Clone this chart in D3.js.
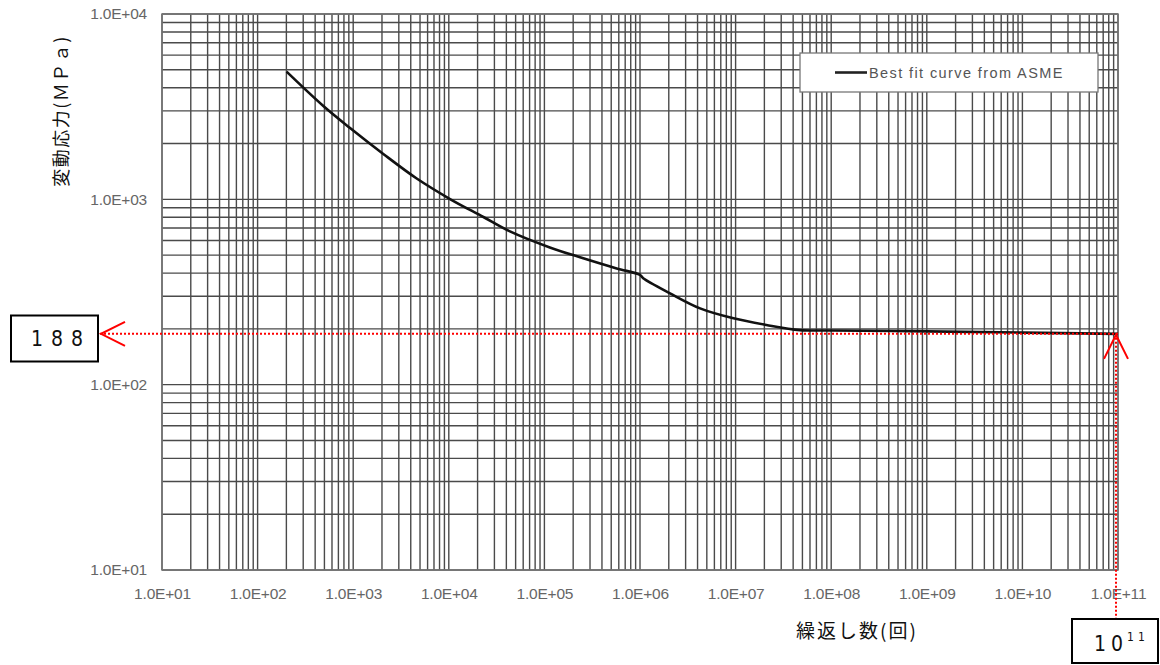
<!DOCTYPE html>
<html>
<head>
<meta charset="utf-8">
<script src="https://cdn.jsdelivr.net/npm/d3@7"></script>
<style>
  html, body { margin: 0; padding: 0; background: #fff; }
  svg { display: block; }
</style>
</head>
<body>
<svg id="chart" width="1160" height="665"></svg>
<script>
// Fatigue (S-N) curve data: cycles to failure vs. alternating stress (MPa)
const cycles = [201, 487, 927, 2065, 4617, 10300, 23000, 43600, 114000, 255000, 570000,
                1.0e6, 1.08e6, 2.06e6, 4.25e6, 9.5e6, 2.1e7, 4.7e7, 1e8, 1e9, 1e10, 1e11];
const stress = [4884, 3188, 2426, 1757, 1295, 1004, 803, 671, 550, 481, 424,
                391, 375, 311, 258, 228, 210, 197, 196, 194, 191, 188];

const xTickValues = [1e1, 1e2, 1e3, 1e4, 1e5, 1e6, 1e7, 1e8, 1e9, 1e10, 1e11];
const yTickValues = [1e1, 1e2, 1e3, 1e4];
const legendLabel = "Best fit curve from ASME";
const yTitle = "変動応力(ＭＰａ)";
const xTitle = "繰返し数(回)";

// Highlighted reading on the curve
const markStress = 188;
const markCycles = 1e11;

const svg = d3.select("#chart");

const x = d3.scaleLog().domain([1e1, 1e11]).range([162, 1118]);
const y = d3.scaleLog().domain([1e1, 1e4]).range([570, 14]);

// minor + major grid values for every decade
function logGridValues(lo, hi) {
  const vals = [];
  for (let e = Math.log10(lo); e < Math.log10(hi); e++) {
    for (let m = 1; m <= 9; m++) vals.push(m * Math.pow(10, e));
  }
  vals.push(hi);
  return vals;
}

const plot = svg.append("g");

// horizontal grid
plot.append("g").selectAll("line")
  .data(logGridValues(1e1, 1e4))
  .join("line")
  .attr("x1", x.range()[0]).attr("x2", x.range()[1])
  .attr("y1", d => y(d)).attr("y2", d => y(d))
  .attr("stroke", "#4a4a4a").attr("stroke-width", 1.4);

// vertical grid
plot.append("g").selectAll("line")
  .data(logGridValues(1e1, 1e11))
  .join("line")
  .attr("y1", y.range()[0]).attr("y2", y.range()[1])
  .attr("x1", d => x(d)).attr("x2", d => x(d))
  .attr("stroke", "#4a4a4a").attr("stroke-width", 1.4);

// plot frame
plot.append("rect")
  .attr("x", x.range()[0]).attr("y", y.range()[1])
  .attr("width", x.range()[1] - x.range()[0])
  .attr("height", y.range()[0] - y.range()[1])
  .attr("fill", "none").attr("stroke", "#777").attr("stroke-width", 1.5);

const fmt = d => "1.0E+" + String(Math.round(Math.log10(d))).padStart(2, "0");

// axes (labels only; grid drawn above)
const xAxis = d3.axisBottom(x).tickValues(xTickValues).tickFormat(fmt).tickSize(0).tickPadding(18);
const gx = svg.append("g").attr("transform", `translate(0,${y.range()[0]})`).call(xAxis);
gx.select(".domain").remove();
gx.attr("font-size", null);
gx.selectAll("text")
  .attr("fill", "#666").attr("font-family", "Liberation Sans, Arial, sans-serif")
  .style("font-size", "15.5px").attr("letter-spacing", -0.2);

const yAxis = d3.axisLeft(y).tickValues(yTickValues).tickFormat(fmt).tickSize(0).tickPadding(15);
const gy = svg.append("g").attr("transform", `translate(${x.range()[0]},0)`).call(yAxis);
gy.select(".domain").remove();
gy.attr("font-size", null);
gy.selectAll("text")
  .attr("fill", "#666").attr("font-family", "Liberation Sans, Arial, sans-serif")
  .style("font-size", "15.5px").attr("letter-spacing", -0.2);

// S-N curve
const line = d3.line()
  .x((d, i) => x(cycles[i]))
  .y((d, i) => y(stress[i]))
  .curve(d3.curveCatmullRom.alpha(0.5));
svg.append("path")
  .datum(stress)
  .attr("d", line)
  .attr("fill", "none").attr("stroke", "#111").attr("stroke-width", 2.6)
  .attr("stroke-linejoin", "round");

// legend
const lg = svg.append("g");
lg.append("rect")
  .attr("x", 800).attr("y", 53).attr("width", 298).attr("height", 39)
  .attr("fill", "#fff").attr("stroke", "#777").attr("stroke-width", 1.3);
lg.append("line")
  .attr("x1", 835).attr("x2", 867).attr("y1", 72.5).attr("y2", 72.5)
  .attr("stroke", "#222").attr("stroke-width", 2.6);
lg.append("text")
  .attr("x", 869).attr("y", 77.5)
  .attr("font-family", "Liberation Sans, Arial, sans-serif")
  .style("font-size", "14.5px").attr("fill", "#555").attr("letter-spacing", 1.4)
  .text(legendLabel);

// axis titles
svg.append("text")
  .attr("transform", "translate(68,111) rotate(-90)")
  .attr("text-anchor", "middle")
  .attr("font-family", "Noto Sans CJK JP, sans-serif")
  .attr("font-size", 18).attr("letter-spacing", 1.5).attr("fill", "#111")
  .text(yTitle);

svg.append("text")
  .attr("x", 857).attr("y", 638)
  .attr("text-anchor", "middle")
  .attr("font-family", "Noto Sans CJK JP, sans-serif")
  .attr("font-size", 19).attr("letter-spacing", 2).attr("fill", "#111")
  .text(xTitle);

// annotation: value read at 10^11 cycles
const red = "#ff0000";
const ann = svg.append("g");
const ym = y(markStress), xm = x(markCycles);

ann.append("line")
  .attr("x1", 100).attr("x2", xm).attr("y1", ym).attr("y2", ym)
  .attr("stroke", red).attr("stroke-width", 2).attr("stroke-dasharray", "2,2");
ann.append("polyline")
  .attr("points", `125,${ym - 12} 101,${ym} 125,${ym + 12}`)
  .attr("fill", "none").attr("stroke", red).attr("stroke-width", 2);

ann.append("line")
  .attr("x1", xm - 2).attr("x2", xm - 2).attr("y1", ym).attr("y2", 620)
  .attr("stroke", red).attr("stroke-width", 2).attr("stroke-dasharray", "2,2");
ann.append("polyline")
  .attr("points", `${xm - 14},${ym + 25} ${xm - 2},${ym + 1} ${xm + 10},${ym + 25}`)
  .attr("fill", "none").attr("stroke", red).attr("stroke-width", 2);

// value boxes
const narrow = "Liberation Sans Narrow, DejaVu Sans Condensed, Liberation Sans, sans-serif";
ann.append("rect")
  .attr("x", 11).attr("y", 315.5).attr("width", 87).attr("height", 46)
  .attr("fill", "#fff").attr("stroke", "#000").attr("stroke-width", 2);
ann.append("text")
  .attr("x", 31).attr("y", 346)
  .attr("font-family", narrow)
  .attr("font-size", 21).attr("letter-spacing", 8).attr("fill", "#111")
  .text(String(markStress));

ann.append("rect")
  .attr("x", 1072).attr("y", 619).attr("width", 86).attr("height", 44)
  .attr("fill", "#fff").attr("stroke", "#000").attr("stroke-width", 2);
const t = ann.append("text")
  .attr("x", 1094).attr("y", 651)
  .attr("font-family", narrow)
  .attr("font-size", 21).attr("fill", "#111");
t.append("tspan").attr("letter-spacing", 5).text("10");
t.append("tspan").attr("font-size", 12).attr("dy", -10).attr("dx", -1).attr("letter-spacing", 4)
  .text(String(Math.round(Math.log10(markCycles))));
</script>
</body>
</html>
